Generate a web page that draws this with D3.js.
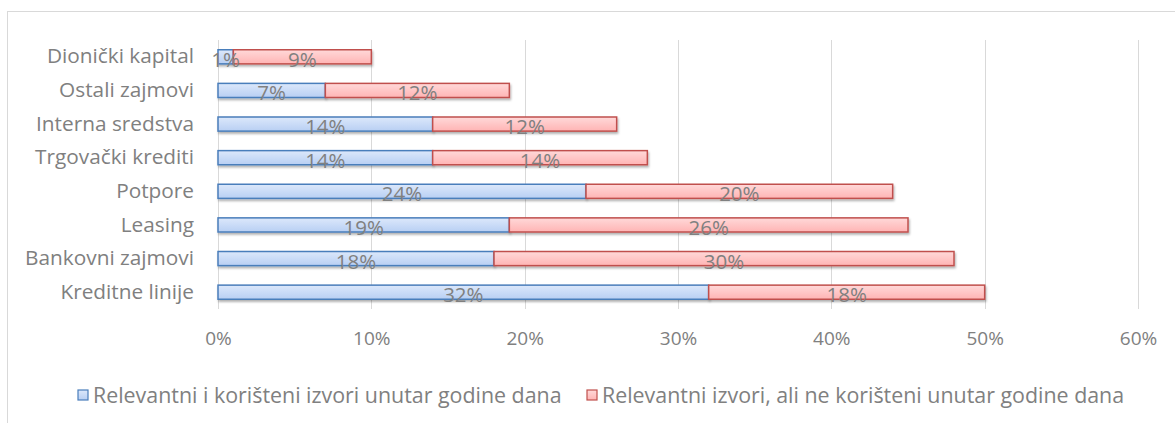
<!DOCTYPE html>
<html>
<head>
<meta charset="utf-8">
<script src="https://cdn.jsdelivr.net/npm/d3@7"></script>
<style>
  body { margin: 0; background: #fff; }
  svg text { font-family: "Open Sans", sans-serif; }
</style>
</head>
<body>
<div id="chart"></div>
<script>
// categories, top to bottom
var categories = ["Dionički kapital", "Ostali zajmovi", "Interna sredstva", "Trgovački krediti",
                  "Potpore", "Leasing", "Bankovni zajmovi", "Kreditne linije"];
var usedVals = [1, 7, 14, 14, 24, 19, 18, 32];
var notUsedVals = [9, 12, 12, 14, 20, 26, 30, 18];
var seriesNames = ["Relevantni i korišteni izvori unutar godine dana",
                   "Relevantni izvori, ali ne korišteni unutar godine dana"];
var xTicks = [0, 10, 20, 30, 40, 50, 60];

var W = 1175, H = 423;
var margin = {top: 40, left: 218, right: 37, bottom: 114};
var width = W - margin.left - margin.right,
    height = H - margin.top - margin.bottom;

var svg = d3.select("#chart").append("svg")
  .attr("width", W).attr("height", H);

var defs = svg.append("defs");
function grad(id, c1, c2) {
  var g = defs.append("linearGradient").attr("id", id)
    .attr("x1", 0).attr("y1", 0).attr("x2", 0).attr("y2", 1);
  g.append("stop").attr("offset", "0%").attr("stop-color", c1);
  g.append("stop").attr("offset", "100%").attr("stop-color", c2);
}
grad("gBlue", "#dce8fb", "#b8cff3");
grad("gRed", "#ffd9d9", "#ffb4b4");
var f = defs.append("filter").attr("id", "shadow")
  .attr("x", "-5%").attr("y", "-30%").attr("width", "110%").attr("height", "180%");
f.append("feDropShadow").attr("dx", 1).attr("dy", 2).attr("stdDeviation", 1.2)
  .attr("flood-color", "#000").attr("flood-opacity", 0.3);

// outer chart border
svg.append("rect")
  .attr("x", 7.5).attr("y", 11.5).attr("width", W + 10).attr("height", H + 10)
  .attr("fill", "none").attr("stroke", "#d9d9d9").attr("stroke-width", 1);

var g = svg.append("g")
  .attr("transform", "translate(" + margin.left + "," + margin.top + ")");

var x = d3.scaleLinear().domain([0, 60]).range([0, width]);
var y = d3.scaleBand().domain(categories).range([0, height]).paddingInner(0.58).paddingOuter(0.29);

// gridlines
g.selectAll(".grid").data(xTicks).enter().append("line")
  .attr("x1", function(d) { return Math.round(x(d)) + 0.5; })
  .attr("x2", function(d) { return Math.round(x(d)) + 0.5; })
  .attr("y1", 0).attr("y2", height)
  .attr("stroke", "#d9d9d9").attr("stroke-width", 1);

// x axis labels
var axisX = g.append("g")
  .attr("transform", "translate(0," + height + ")")
  .call(d3.axisBottom(x).tickValues(xTicks).tickSize(0).tickPadding(23)
    .tickFormat(function(d) { return d + "%"; }));
axisX.select(".domain").remove();
axisX.selectAll(".tick text")
  .attr("font-size", 19).attr("fill", "#808080")
  .style("font-family", "'Open Sans', sans-serif");

// y axis labels
var axisY = g.append("g")
  .call(d3.axisLeft(y).tickSize(0).tickPadding(24));
axisY.select(".domain").remove();
axisY.selectAll(".tick text")
  .attr("font-size", 20.8).attr("fill", "#808080")
  .style("font-family", "'Open Sans', sans-serif");

var rows = categories.map(function(c, i) {
  return {cat: c, a: usedVals[i], b: notUsedVals[i]};
});

// blue segments
g.selectAll(".barA").data(rows).enter().append("rect")
  .attr("x", x(0))
  .attr("y", function(d) { return y(d.cat); })
  .attr("width", function(d) { return x(d.a) - x(0); })
  .attr("height", y.bandwidth())
  .attr("fill", "url(#gBlue)").attr("stroke", "#4a7ebb").attr("stroke-width", 1.5)
  .attr("filter", "url(#shadow)");

// red segments
g.selectAll(".barB").data(rows).enter().append("rect")
  .attr("x", function(d) { return x(d.a); })
  .attr("y", function(d) { return y(d.cat); })
  .attr("width", function(d) { return x(d.a + d.b) - x(d.a); })
  .attr("height", y.bandwidth())
  .attr("fill", "url(#gRed)").attr("stroke", "#c0504d").attr("stroke-width", 1.5)
  .attr("filter", "url(#shadow)");

// value labels
function addLabels(acc, start) {
  g.selectAll(null).data(rows).enter().append("text")
    .attr("x", function(d) { return x(start(d) + acc(d) / 2); })
    .attr("y", function(d) { return y(d.cat) + y.bandwidth() / 2 + 10; })
    .attr("text-anchor", "middle")
    .attr("font-size", 20.5).attr("fill", "#808080")
    .text(function(d) { return acc(d) + "%"; });
}
addLabels(function(d) { return d.a; }, function(d) { return 0; });
addLabels(function(d) { return d.b; }, function(d) { return d.a; });

// legend
var legend = svg.append("g").attr("transform", "translate(0,396)");
var legItems = [
  {name: seriesNames[0], x: 78, fill: "url(#gBlue)", stroke: "#4a7ebb"},
  {name: seriesNames[1], x: 587, fill: "url(#gRed)", stroke: "#c0504d"}
];
legItems.forEach(function(it) {
  legend.append("rect")
    .attr("x", it.x).attr("y", -6).attr("width", 10).attr("height", 10)
    .attr("fill", it.fill).attr("stroke", it.stroke).attr("stroke-width", 1.2);
  legend.append("text")
    .attr("x", it.x + 15).attr("y", 7)
    .attr("font-size", 21.4).attr("fill", "#808080")
    .text(it.name);
});
</script>
</body>
</html>
